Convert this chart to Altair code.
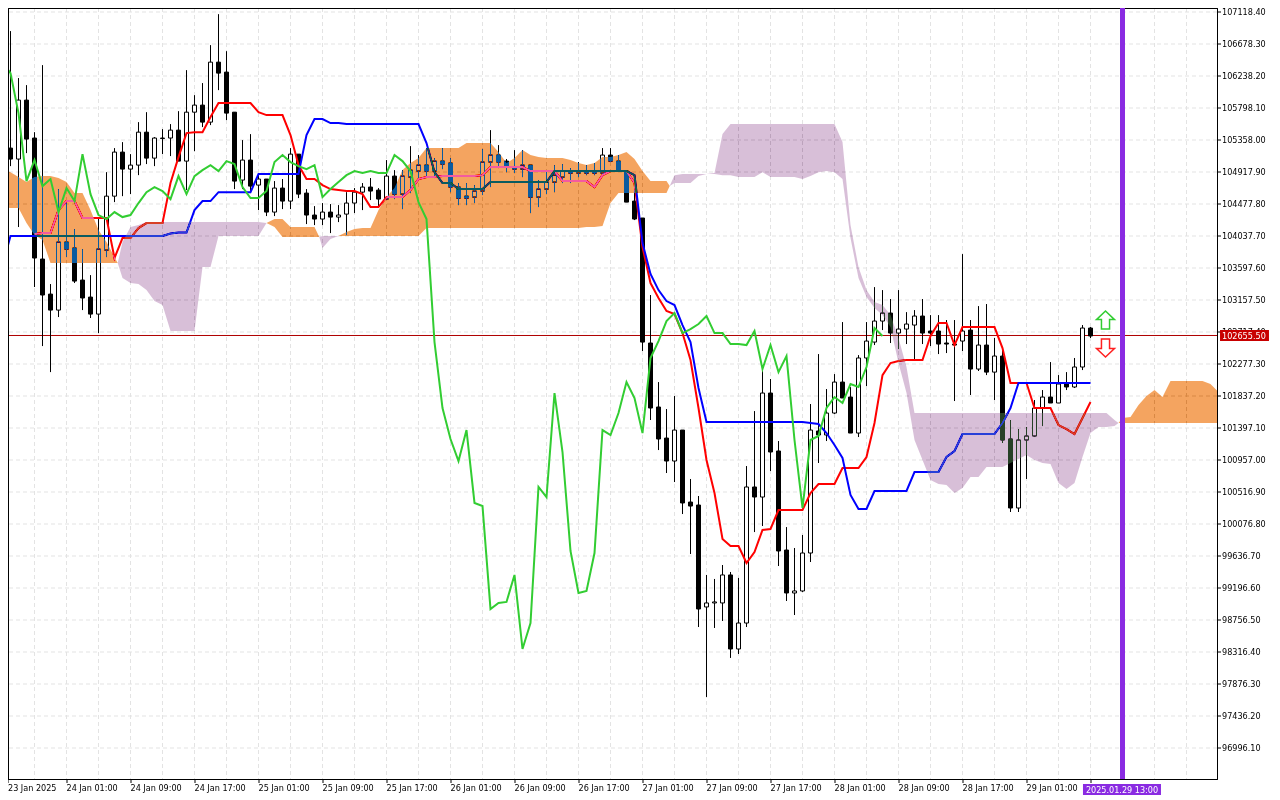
import altair as alt
import pandas as pd

FONT = "DejaVu Sans Condensed"
FONT_SIZE = 9

highs = [105281,106849,106203,106106,105459,106381,103370,104676,104484,104126,103851,103493,104278,104909,105240,105322,105157,105597,105734,105391,105501,105570,105748,106312,105968,106134,106656,107082,106573,105734,105350,105432,104896,104814,104786,104814,105240,105157,104676,104442,104484,104470,104456,104634,104690,104759,104828,104690,105075,104937,104937,105267,105144,105240,105102,105240,105102,104759,104759,104731,105226,105487,105281,105089,105212,105212,105006,104800,104937,105006,105020,104965,105048,105006,105034,105240,105240,105144,104924,104662,104278,103219,102022,101651,101830,101362,100689,100455,99369,99314,99506,99410,99328,100867,101623,102215,102064,101211,100028,99740,99919,101720,102407,101926,102132,102847,101953,102393,102847,103328,103287,103164,103287,102984,103012,103164,102943,102943,102875,102875,103782,102875,103067,103095,102628,102503,101500,101376,101403,101775,101912,102297,102118,102159,102353,102806,102779]
lows = [105102,104992,104154,105171,103329,102517,102159,102916,103741,103384,103012,102903,102696,103741,104497,104579,104607,104868,105020,104992,105157,105130,105061,104662,105198,105529,105556,106037,105625,104676,104676,104621,104387,104305,104305,104401,104401,104552,104195,104181,104181,104071,104222,104044,104346,104387,104525,104429,104539,104539,104401,104621,104828,104828,104828,104951,104634,104456,104456,104484,104594,104704,104965,104909,104896,104841,104346,104429,104607,104634,104759,104759,104841,104868,104868,104882,105048,104924,104497,104250,102449,101500,101087,100771,100647,100207,99657,98653,97691,98640,98736,98228,98282,98653,99959,100042,100798,99492,99011,98818,99134,99547,100909,101211,101582,101803,101321,101266,101967,102531,102737,102559,102476,102545,102339,102545,102517,102407,102421,101761,102449,101844,102174,102118,101775,101184,100235,100235,100689,101266,101417,101734,101734,101912,101940,102187,102628]
opens = [105171,105240,105089,105900,105378,103714,103232,103012,103947,103865,103425,103191,102957,103837,104579,105185,104951,105006,105459,105102,105371,105378,105487,105061,105734,105831,105597,106422,106285,105734,104800,105075,104731,104814,104360,104690,104511,105157,104621,104319,104264,104360,104291,104332,104484,104634,104704,104662,104539,104855,104607,104841,104924,105006,104924,105061,105034,104704,104579,104566,104649,105048,105144,105061,104965,104951,105006,104566,104676,104772,104841,104924,104896,104924,104924,104896,105144,105061,104924,104511,104278,102559,101679,101252,100936,101362,100372,100331,98929,98984,98984,99369,98351,98708,100579,100441,101871,101074,99712,99121,99149,99671,101349,101294,101596,102022,101816,101321,102353,102572,102861,102971,102696,102751,102806,102930,102724,102724,102559,102545,102586,102737,102201,102531,102159,102380,101239,100290,101225,101280,101665,101816,101734,101995,101954,102229,102765]
closes = [105226,105089,105900,105364,103728,103219,103012,103947,103851,103411,103178,102957,103851,104579,105185,104951,105006,105459,105102,105378,105378,105487,105061,105734,105831,105597,106422,106271,105721,104786,105075,104717,104814,104360,104690,104511,105157,104607,104319,104264,104360,104291,104319,104484,104634,104704,104649,104539,104855,104607,104855,104937,105006,104924,105061,105020,104704,104552,104552,104649,105048,105144,105048,104992,104951,105006,104566,104676,104772,104868,104924,104896,104924,104896,104896,105144,105061,104924,104497,104264,102572,101665,101239,100936,101362,100359,100317,98901,98984,98998,99369,98351,98708,100579,100441,101871,101060,99699,99121,99149,99671,101362,101294,101596,102022,101803,101321,102353,102586,102861,102971,102696,102751,102820,102930,102696,102696,102545,102545,102531,102724,102201,102531,102159,102380,101225,100290,101225,101280,101665,101816,101734,101995,101954,102229,102765,102655.5]

kijun = [103631,104030,104030,104030,104030,104030,104030,104030,104030,104030,104030,104030,104030,104030,104030,104030,104030,104030,104030,104030,104030,104064,104078,104078,104387,104511,104511,104634,104634,104634,104634,104634,104882,104882,104882,104882,104882,104882,105419,105639,105639,105584,105584,105570,105570,105570,105570,105570,105570,105570,105570,105570,105570,105309,104909,104759,104759,104676,104676,104676,104676,104772,104772,104772,104772,104772,104772,104772,104772,104924,104924,104924,104924,104924,104924,104924,104924,104924,104924,104868,103934,103508,103287,103136,103081,102806,102572,101940,101472,101472,101472,101472,101472,101472,101472,101472,101472,101472,101472,101472,101472,101459,101445,101321,101156,100978,100469,100276,100276,100524,100524,100524,100524,100524,100785,100785,100785,100785,100991,101074,101307,101307,101307,101307,101307,101459,101665,102009,102009,102009,102009,102009,102009,102009,102009,102009,102009]

tenkan_start = 4
tenkan = [104057,104071,104071,104387,104511,104511,104278,104278,104278,104278,103728,104002,104002,104140,104209,104209,104209,104759,105116,105446,105459,105459,105666,105859,105859,105859,105859,105859,105734,105694,105694,105694,105419,105006,104814,104814,104731,104676,104662,104649,104649,104607,104429,104429,104566,104566,104566,104662,104814,104841,104841,104855,104855,104855,104855,104855,104868,104979,104979,104979,104979,104979,104924,104924,104924,104924,104786,104786,104786,104786,104704,104868,104924,104924,104924,104759,103879,103384,103178,102999,102957,102696,102325,101665,100950,100496,99864,99768,99768,99534,99685,99987,100001,100262,100262,100262,100262,100496,100620,100620,100620,100840,100840,100840,100991,101459,102118,102284,102311,102325,102325,102325,102655,102834,102834,102531,102779,102779,102779,102779,102779,102490,102009,102009,102009,101665,101665,101665,101431,101376,101307,101527,101747]

chikou = [106422,106271,105721,104786,105075,104717,104814,104360,104690,104511,105157,104607,104319,104264,104360,104291,104319,104484,104634,104704,104649,104539,104855,104607,104855,104937,105006,104924,105061,105020,104704,104552,104552,104649,105048,105144,105048,104992,104951,105006,104566,104676,104772,104868,104924,104896,104924,104896,104896,105144,105061,104924,104497,104264,102572,101665,101239,100936,101362,100359,100317,98901,98984,98998,99369,98351,98708,100579,100441,101871,101060,99699,99121,99149,99671,101362,101294,101596,102022,101803,101321,102353,102586,102861,102971,102696,102751,102820,102930,102696,102696,102545,102545,102531,102724,102201,102531,102159,102380,101225,100290,101225,101280,101665,101816,101734,101995,101954,102229,102765,102655.5]

o1_idx = [0.6875,1,2,3,4,5,6,7,8,9,10,11,12,13,14,14.4]
o1_top = [104920,104909,104841,104772,104841,104855,104855,104828,104772,104621,104621,104387,104112,103947,103741,103659]
o1_bot = [104418,104415,104415,104209,104044,103975,103659,103659,103659,103659,103659,103659,103659,103659,103659,103659]

p1_idx = [14.4,15,16,17,18,19,20,21,22,23,24,25,26,27,28,29,30,31,32,33]
p1_top = [103659,103947,104154,104181,104222,104222,104222,104222,104222,104222,104222,104222,104222,104222,104222,104222,104222,104222,104222,104209]
p1_bot = [103659,103453,103384,103370,103287,103136,103081,102724,102724,102724,102724,103604,103604,104030,104030,104030,104030,104030,104030,104209]

o2_idx = [33,34,35,36,37,38,39,39.6]
o2_top = [104209,104264,104264,104154,104154,104154,104154,104016]
o2_bot = [104209,104154,104016,104016,104016,104016,104016,104016]

p2_idx = [39.6,40,41,42]
p2_top = [104016,104030,104030,104030]
p2_bot = [104016,103865,103989,104030]

o3_idx = [42,43,44,45,46,47,48,49,50,51,52,53,54,55,56,57,58,59,60,61,62,63,64,65,66,67,68,69,70,71,72,73,74,75,76,77,78,79,80,81,82,83,83.4]
o3_top = [104030,104085,104126,104140,104140,104387,104566,104690,104937,105034,105102,105240,105240,105240,105240,105240,105309,105309,105309,105309,105185,105034,105102,105212,105144,105116,105102,105102,105102,105075,105034,105006,105034,105116,105116,105144,105185,105089,104924,104786,104786,104786,104717]
o3_bot = [104030,104030,104030,104030,104030,104030,104030,104030,104030,104030,104030,104140,104140,104140,104140,104140,104140,104140,104140,104140,104140,104140,104140,104140,104140,104140,104140,104140,104140,104140,104140,104154,104154,104167,104484,104621,104621,104621,104621,104621,104621,104621,104717]

p3_idx = [83.4,84,85,86,87,88,89,90,91,92,93,94,95,96,97,98,99,100,101,102,103,104,105,106,107,108,109,110,111,112,113,114,115,116,117,118,119,120,121,122,123,124,125,126,127,128,129,130,131,132,133,134,135,136,137,138,139,139.5]
p3_top = [104717,104868,104882,104882,104882,104882,104896,105432,105570,105570,105570,105570,105570,105570,105570,105570,105570,105570,105570,105570,105570,105570,105322,104181,103604,103287,103123,103081,102943,102628,102229,101596,101596,101596,101596,101596,101596,101596,101596,101596,101596,101596,101596,101596,101596,101596,101596,101596,101596,101596,101596,101596,101596,101596,101596,101596,101500,101459]
p3_bot = [104717,104759,104759,104759,104855,104882,104882,104868,104868,104841,104841,104841,104909,104841,104841,104841,104841,104814,104855,104909,104924,104909,104814,104002,103453,103191,103040,102943,102779,102284,101871,101225,100950,100675,100620,100606,100496,100565,100716,100716,100854,100854,100854,100909,100964,101019,100950,100909,100895,100634,100551,100634,100991,101321,101404,101404,101417,101459]

o4_idx = [139.5,140,141,142,143,144,145,146,147,148,149,150,151,151.8125]
o4_top = [101459,101527,101541,101706,101830,101912,101816,102036,102036,102036,102036,102036,101995,101906]
o4_bot = [101459,101459,101459,101459,101459,101459,101459,101459,101459,101459,101459,101459,101459,101459]

y_ticks = [107118.4,106678.3,106238.2,105798.1,105358.0,104917.9,104477.8,104037.7,103597.6,103157.5,102717.4,102277.3,101837.2,101397.1,100957.0,100516.9,100076.8,99636.7,99196.6,98756.5,98316.4,97876.3,97436.2,96996.1]
x_tick_idx = [0.6875,8,16,24,32,40,48,56,64,72,80,88,96,104,112,120,128,136]
x_tick_labels = ['23 Jan 2025','24 Jan 01:00','24 Jan 09:00','24 Jan 17:00','25 Jan 01:00','25 Jan 09:00','25 Jan 17:00','26 Jan 01:00','26 Jan 09:00','26 Jan 17:00','27 Jan 01:00','27 Jan 09:00','27 Jan 17:00','28 Jan 01:00','28 Jan 09:00','28 Jan 17:00','29 Jan 01:00','']
x_grid_idx = [4,8,12,16,20,24,28,32,36,40,44,48,52,56,60,64,68,72,76,80,84,88,92,96,100,104,108,112,116,120,124,128,132,136,140,144,148]

last_price = 102655.5
last_price_line = 102662.4
cursor_idx = 140
cursor_label = "2025.01.29 13:00"
up_arrow_price = 102875
down_arrow_price = 102490
arrow_idx = 137.875

W, H = 1209, 771
xs = alt.Scale(domain=[0.6875, 151.8125], nice=False, zero=False, padding=0)
ys = alt.Scale(domain=[96562.88, 107166.54], nice=False, zero=False, padding=0)

labels_js = "[" + ",".join(repr(s) for s in x_tick_labels) + "][floor(datum.value/8)]"
x_axis = alt.Axis(
    values=x_tick_idx, labelExpr=labels_js, grid=False, domain=False, translate=0, tickSize=4, tickColor="black",
    labelAlign="left", labelBaseline="top", labelPadding=1, labelFont=FONT, labelFontSize=FONT_SIZE,
    labelColor="black", labelOverlap=False, labelFlush=False, labelBound=False)
y_axis = alt.Axis(
    orient="right", values=y_ticks, format=".2f", grid=True, gridColor="#e3e3e3", gridDash=[4, 3],
    domain=False, translate=0, tickSize=4, tickColor="black", labelPadding=1, labelFont=FONT,
    labelFontSize=FONT_SIZE, labelColor="black", labelOverlap=False, labelBound=False)
X = lambda f: alt.X(f, type="quantitative", scale=xs, axis=x_axis, title=None)
Y = lambda f: alt.Y(f, type="quantitative", scale=ys, axis=y_axis, title=None)

candles = pd.DataFrame({"idx": range(len(opens)), "open": opens, "close": closes, "high": highs, "low": lows})
blue_df = pd.DataFrame({"idx": range(len(kijun)), "v": kijun})
red_df = pd.DataFrame({"idx": range(tenkan_start, tenkan_start + len(tenkan)), "v": tenkan})
green_df = pd.DataFrame({"idx": range(len(chikou)), "v": chikou})


def seg(name, idx, top, bot):
    return pd.DataFrame({"idx": idx, "top": top, "bot": bot, "seg": name})


orange = pd.concat([seg("o1", o1_idx, o1_top, o1_bot), seg("o2", o2_idx, o2_top, o2_bot),
                    seg("o3", o3_idx, o3_top, o3_bot), seg("o4", o4_idx, o4_top, o4_bot)])
purple = pd.concat([seg("p1", p1_idx, p1_top, p1_bot), seg("p2", p2_idx, p2_top, p2_bot),
                    seg("p3", p3_idx, p3_top, p3_bot)])

xgrid = alt.Chart(pd.DataFrame({"idx": x_grid_idx})).mark_rule(color="#e3e3e3", strokeDash=[4, 3], strokeWidth=1).encode(x=X("idx"))
price_line = alt.Chart(pd.DataFrame({"v": [last_price_line]})).mark_rule(color="#b00000", strokeWidth=1).encode(y=Y("v"))

wicks = alt.Chart(candles).mark_rule(color="black", strokeWidth=1, clip=True).encode(x=X("idx"), y=Y("high"), y2="low")
bodies = alt.Chart(candles).mark_bar(size=4, stroke="black", strokeWidth=1, clip=True).encode(
    x=X("idx"), y=Y("open"), y2="close",
    fill=alt.condition("datum.close >= datum.open", alt.value("white"), alt.value("black")))

red_line = alt.Chart(red_df).mark_line(color="#ff0000", strokeWidth=2, clip=True).encode(x=X("idx"), y=Y("v"))
blue_line = alt.Chart(blue_df).mark_line(color="#0000ff", strokeWidth=2, clip=True).encode(x=X("idx"), y=Y("v"))

# the cloud inverts what lies beneath it, as the terminal's XOR drawing does
orange_area = alt.Chart(orange).mark_area(color="#0B5B9F", blend="difference").encode(
    x=X("idx"), y=Y("top"), y2="bot", detail="seg:N")
purple_area = alt.Chart(purple).mark_area(color="#274027", blend="difference").encode(
    x=X("idx"), y=Y("top"), y2="bot", detail="seg:N")

green_line = alt.Chart(green_df).mark_line(color="#32cd32", strokeWidth=2, clip=True).encode(x=X("idx"), y=Y("v"))
cursor = alt.Chart(pd.DataFrame({"idx": [cursor_idx]})).mark_rule(color="#8a2be2", strokeWidth=5).encode(x=X("idx"))

frame = alt.Chart(pd.DataFrame({"k": [0]})).mark_rect(fillOpacity=0, stroke="black", strokeWidth=1).encode(
    x=alt.value(0.5), x2=alt.value(W + 0.5), y=alt.value(0.5), y2=alt.value(H + 0.5))

UP = "M0,-1 L1,-0.05 L0.45,-0.05 L0.45,1 L-0.45,1 L-0.45,-0.05 L-1,-0.05 Z"
DOWN = "M0,1 L1,0.05 L0.45,0.05 L0.45,-1 L-0.45,-1 L-0.45,0.05 L-1,0.05 Z"
up_arrow = alt.Chart(pd.DataFrame({"idx": [arrow_idx], "v": [up_arrow_price]})).mark_point(
    shape=UP, size=324, filled=True, fill="white", stroke="#32cd32", strokeWidth=1.5, opacity=1).encode(x=X("idx"), y=Y("v"))
down_arrow = alt.Chart(pd.DataFrame({"idx": [arrow_idx], "v": [down_arrow_price]})).mark_point(
    shape=DOWN, size=324, filled=True, fill="white", stroke="#ff2020", strokeWidth=1.5, opacity=1).encode(x=X("idx"), y=Y("v"))

price_box = alt.Chart(pd.DataFrame({"a": [152.19], "b": [158.31], "t": [102737], "u": [102586]})).mark_rect(color="#c80000").encode(
    x=X("a"), x2="b", y=Y("t"), y2="u")
price_text = alt.Chart(pd.DataFrame({"a": [152.44], "v": [last_price], "s": ["102655.50"]})).mark_text(
    align="left", baseline="middle", color="white", font=FONT, fontSize=FONT_SIZE).encode(x=X("a"), y=Y("v"), text="s:N")

date_box = alt.Chart(pd.DataFrame({"a": [135.06], "b": [144.81]})).mark_rect(color="#8a2be2").encode(
    x=X("a"), x2="b", y=alt.value(776), y2=alt.value(787))
date_text = alt.Chart(pd.DataFrame({"a": [139.94], "s": [cursor_label]})).mark_text(
    align="center", baseline="middle", color="white", font=FONT, fontSize=FONT_SIZE).encode(x=X("a"), y=alt.value(781.5), text="s:N")

chart = alt.layer(
    xgrid, price_line, wicks, bodies, red_line, blue_line, orange_area, purple_area, green_line,
    frame, cursor, up_arrow, down_arrow, price_box, price_text, date_box, date_text,
).properties(
    width=W, height=H, background="white",
    autosize=alt.AutoSizeParams(type="none"),
    padding={"left": 0, "top": 0, "right": 54, "bottom": 20},
).configure_view(stroke="black", strokeWidth=1)

chart.save("out.html", embed_options={"renderer": "svg", "actions": False})
